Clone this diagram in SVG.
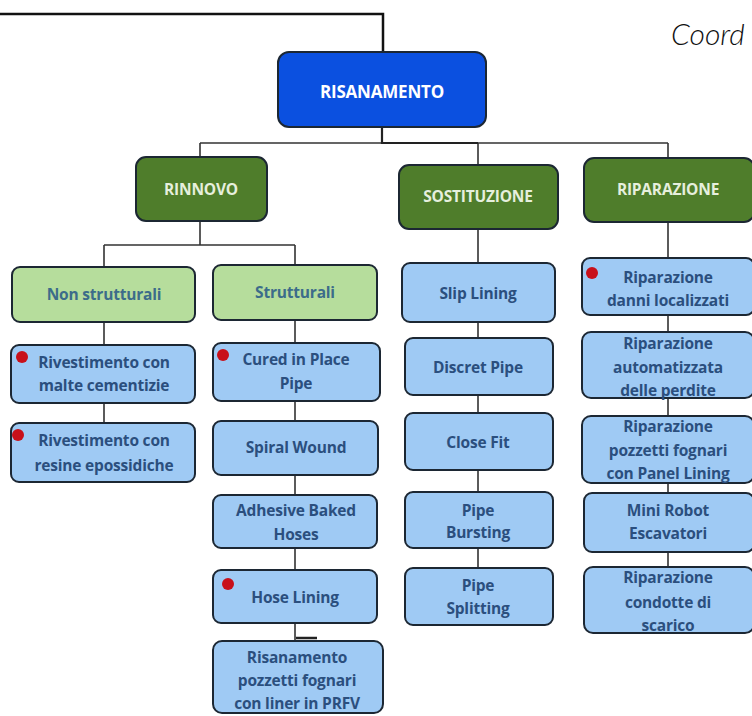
<svg xmlns="http://www.w3.org/2000/svg" width="752" height="716" viewBox="0 0 752 716">
<style>
.bx{fill:#9fcaf4;stroke:#1c2733;stroke-width:2}
.gd{fill:#4f7d2b;stroke:#1c2733;stroke-width:2}
.gl{fill:#b6dd9c;stroke:#1c2733;stroke-width:2}
.bt{font-family:"Open Sans","Liberation Sans",sans-serif;font-weight:700;font-size:15.5px;fill:#2b4f7e;text-anchor:middle;letter-spacing:-0.2px}
.gt{font-family:"Open Sans","Liberation Sans",sans-serif;font-weight:700;font-size:15.5px;fill:#e6efdd;text-anchor:middle;letter-spacing:-0.2px}
.lt{font-family:"Open Sans","Liberation Sans",sans-serif;font-weight:700;font-size:15.5px;fill:#3c6c8a;text-anchor:middle;letter-spacing:-0.2px}
.dot{fill:#c8101a}
.cn{stroke:#333;stroke-width:1.6;fill:none}
</style>
<rect width="752" height="716" fill="#fff"/>
<text x="671" y="45" font-family="Lato,'Open Sans',sans-serif" font-style="italic" font-weight="300" font-size="30" fill="#111">Coord</text>
<g id="connectors">
<path d="M0 14H383V52" stroke="#111" stroke-width="2.5" fill="none"/>
<path class="cn" d="M382 127V143M200 143H668M200 143V157M478 143V164M668 143V157"/>
<path d="M382 127V143H478" stroke="#222" stroke-width="2.2" fill="none"/>
<path class="cn" d="M200 220V245M104 245H295M104 245V267M295 245V265"/>
<path class="cn" d="M104 322V345M104 403V423"/>
<path class="cn" d="M295 320V343M295 401V421M295 475V495M295 548V570M295 623V641"/>
<path d="M296 638H317" stroke="#222" stroke-width="2.5"/>
<path class="cn" d="M478 228V263M478 322V338M478 395V413M478 470V492M478 548V568"/>
<path class="cn" d="M668 222V258M668 315V332M668 398V416M668 483V493M668 552V567"/>
</g>
<g id="risanamento"><rect x="278" y="52" width="208" height="75" rx="11" fill="#0b50e0" stroke="#1c2733" stroke-width="2"/><text x="382" y="98" class="gt" style="fill:#fff;font-size:17px">RISANAMENTO</text></g>
<g id="rinnovo"><rect class="gd" x="136" y="157" width="131" height="64" rx="10"/><text class="gt" x="201" y="195">RINNOVO</text></g>
<g id="sostituzione"><rect class="gd" x="399" y="165" width="159" height="64" rx="10"/><text class="gt" x="478" y="202">SOSTITUZIONE</text></g>
<g id="riparazione"><rect class="gd" x="584" y="158" width="170" height="64" rx="10"/><text class="gt" x="668" y="195">RIPARAZIONE</text></g>
<g id="non-strutturali"><rect class="gl" x="12" y="267" width="183" height="55" rx="8"/><text class="lt" x="104" y="300">Non strutturali</text></g>
<g id="strutturali"><rect class="gl" x="213" y="265" width="164" height="55" rx="8"/><text class="lt" x="295" y="298">Strutturali</text></g>
<g id="malte"><rect class="bx" x="11" y="345" width="184" height="58" rx="8"/><circle class="dot" cx="22" cy="357" r="6"/><text class="bt" x="104" y="368">Rivestimento con</text><text class="bt" x="104" y="391">malte cementizie</text></g>
<g id="resine"><rect class="bx" x="11" y="423" width="184" height="59" rx="8"/><circle class="dot" cx="18" cy="435" r="6"/><text class="bt" x="104" y="446">Rivestimento con</text><text class="bt" x="104" y="471">resine epossidiche</text></g>
<g id="cipp"><rect class="bx" x="213" y="343" width="167" height="58" rx="8"/><circle class="dot" cx="223" cy="355" r="6"/><text class="bt" x="296" y="365">Cured in Place</text><text class="bt" x="296" y="389">Pipe</text></g>
<g id="spiral"><rect class="bx" x="213" y="421" width="165" height="54" rx="8"/><text class="bt" x="296" y="453">Spiral Wound</text></g>
<g id="adhesive"><rect class="bx" x="213" y="495" width="164" height="53" rx="8"/><text class="bt" x="296" y="516">Adhesive Baked</text><text class="bt" x="296" y="540">Hoses</text></g>
<g id="hose"><rect class="bx" x="213" y="570" width="164" height="53" rx="8"/><circle class="dot" cx="228" cy="584" r="6"/><text class="bt" x="295" y="603">Hose Lining</text></g>
<g id="pozzetti-prfv"><rect class="bx" x="213" y="641" width="170" height="72" rx="9"/><text class="bt" x="297" y="663">Risanamento</text><text class="bt" x="297" y="686">pozzetti fognari</text><text class="bt" x="297" y="709">con liner in PRFV</text></g>
<g id="slip"><rect class="bx" x="402" y="263" width="153" height="59" rx="8"/><text class="bt" x="478" y="299">Slip Lining</text></g>
<g id="discret"><rect class="bx" x="405" y="338" width="148" height="57" rx="8"/><text class="bt" x="478" y="373">Discret Pipe</text></g>
<g id="closefit"><rect class="bx" x="405" y="413" width="148" height="57" rx="8"/><text class="bt" x="478" y="448">Close Fit</text></g>
<g id="bursting"><rect class="bx" x="405" y="492" width="148" height="56" rx="8"/><text class="bt" x="478" y="516">Pipe</text><text class="bt" x="478" y="538">Bursting</text></g>
<g id="splitting"><rect class="bx" x="405" y="568" width="148" height="57" rx="8"/><text class="bt" x="478" y="591">Pipe</text><text class="bt" x="478" y="614">Splitting</text></g>
<g id="danni"><rect class="bx" x="582" y="258" width="172" height="57" rx="8"/><circle class="dot" cx="592" cy="273" r="6"/><text class="bt" x="668" y="283">Riparazione</text><text class="bt" x="668" y="306">danni localizzati</text></g>
<g id="automatizzata"><rect class="bx" x="582" y="332" width="172" height="66" rx="9"/><text class="bt" x="668" y="349">Riparazione</text><text class="bt" x="668" y="373">automatizzata</text><text class="bt" x="668" y="396">delle perdite</text></g>
<g id="panel"><rect class="bx" x="582" y="416" width="172" height="67" rx="9"/><text class="bt" x="668" y="432">Riparazione</text><text class="bt" x="668" y="456">pozzetti fognari</text><text class="bt" x="668" y="479">con Panel Lining</text></g>
<g id="robot"><rect class="bx" x="584" y="493" width="170" height="59" rx="8"/><text class="bt" x="668" y="516">Mini Robot</text><text class="bt" x="668" y="539">Escavatori</text></g>
<g id="condotte"><rect class="bx" x="584" y="567" width="170" height="66" rx="9"/><text class="bt" x="668" y="583">Riparazione</text><text class="bt" x="668" y="608">condotte di</text><text class="bt" x="668" y="631">scarico</text></g>
</svg>
